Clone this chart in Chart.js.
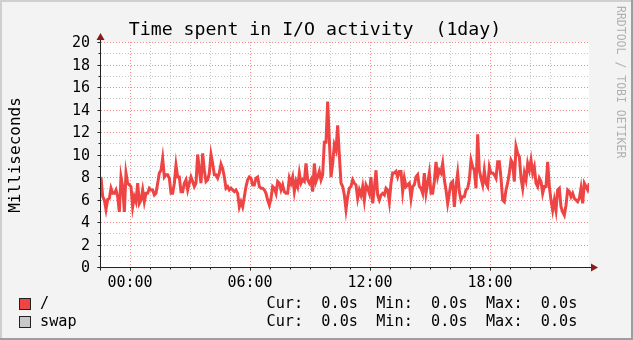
<!DOCTYPE html>
<html>
<head>
<meta charset="utf-8">
<script src="https://cdn.jsdelivr.net/npm/chart.js@4/dist/chart.umd.min.js"></script>
<style>
  html, body { margin: 0; padding: 0; background: #f3f3f3; }
  canvas { display: block; }
</style>
</head>
<body>
<canvas id="ioChart" width="633" height="340"></canvas>
<script>
// Values, one sample every 5 minutes starting 22:33 of the previous day
const startHour = -1.45;
const stepMinutes = 5;
const ioValues = [
  8.0, 6.25, 5.95, 5.1, 6.0, 6.1, 7.0, 6.55, 6.55, 6.85,
  6.25, 4.9, 8.0, 7.15, 4.9, 8.35, 7.45, 7.3, 7.15, 5.35,
  6.25, 5.8, 7.45, 5.65, 5.95, 6.85, 5.8, 6.55, 6.55, 7.0,
  6.85, 6.85, 6.4, 6.55, 7.45, 8.35, 8.6, 9.65, 8.0, 8.2,
  8.2, 7.9, 6.55, 6.55, 7.45, 9.05, 8.0, 8.0, 6.7, 6.7,
  7.45, 7.75, 6.85, 7.45, 8.0, 7.6, 7.15, 7.45, 10.0, 8.6,
  7.45, 10.1, 8.6, 7.6, 7.75, 8.35, 10.0, 9.2, 8.2, 8.2,
  7.9, 8.35, 9.15, 8.75, 8.0, 7.0, 7.15, 6.85, 7.0, 6.85,
  6.7, 6.85, 6.55, 5.35, 5.8, 5.35, 6.25, 7.15, 7.75, 8.0,
  7.9, 7.3, 7.3, 7.9, 8.0, 7.15, 7.0, 7.0, 6.85, 6.55,
  5.95, 5.5, 6.1, 7.15, 7.0, 6.55, 7.6, 7.45, 6.85, 7.3,
  6.7, 6.55, 6.55, 7.9, 7.45, 8.0, 6.7, 7.6, 7.15, 8.35,
  7.45, 7.75, 7.6, 9.2, 7.75, 7.45, 7.75, 6.7, 9.2, 7.6,
  8.0, 8.5, 7.75, 8.2, 11.1, 11.1, 14.7, 11.3, 8.0, 9.2,
  10.85, 10.4, 12.6, 9.95, 7.45, 7.15, 6.4, 5.1, 6.25, 7.0,
  7.15, 7.75,
  7.45, 7.3, 6.1, 6.85, 6.4, 7.15, 5.95, 7.3, 7.0, 6.55,
  8.0, 5.65, 7.0, 8.6, 6.4, 5.95, 6.4, 6.55, 6.4, 7.0,
  6.85, 5.8, 7.45, 8.35, 8.35, 8.5, 8.0, 8.5, 8.5, 6.7,
  7.9, 7.15, 7.3, 7.45, 6.1, 7.15, 7.3, 8.0, 8.2, 7.15,
  7.0, 6.55, 8.35, 6.55, 7.45, 8.35, 6.55, 6.55, 7.6,
  9.35, 8.0, 8.6, 8.35, 9.2, 7.75, 6.85, 5.65, 6.55, 7.45,
  7.6, 5.35, 7.15, 8.35, 6.7, 5.95, 6.25, 6.25, 6.85, 7.0,
  7.75, 9.5, 8.9, 8.6, 7.0, 11.8, 8.6, 7.9, 7.3, 8.6,
  7.45, 7.15, 8.9, 8.35, 8.35, 8.2, 7.9, 9.35, 9.35, 7.9,
  5.95, 5.8, 6.85, 7.45, 8.35, 9.5, 9.2, 7.6, 10.7, 10.1,
  9.8, 7.9, 7.0, 8.35, 7.75, 9.2, 8.6, 9.5, 8.35, 8.9,
  7.45, 7.15, 7.9, 7.6, 6.55, 7.15, 7.15, 9.35, 7.15, 5.95,
  5.05, 5.95, 5.05, 6.85, 7.0, 5.35, 4.9, 4.6, 5.5,
  6.85, 6.7, 6.25, 6.55, 6.1, 5.95, 5.8, 6.1, 7.0, 5.65,
  7.45, 7.15, 6.85, 7.45
];

const xTickHours = [0, 6, 12, 18];
const xTickLabels = ['00:00', '06:00', '12:00', '18:00'];
const yMajorStep = 2;

const titleText = 'Time spent in I/O activity  (1day)';
const yTitle = 'Milliseconds';
const legendNames = ['/', 'swap'];
const legendColors = ['#ee4444', '#c8c8c8'];
const legendStats = ['Cur:  0.0s  Min:  0.0s  Max:  0.0s', 'Cur:  0.0s  Min:  0.0s  Max:  0.0s'];

const MONO = '"DejaVu Sans Mono", monospace';
const points = ioValues.map((v, i) => ({ x: startHour + i * stepMinutes / 60, y: v }));

function isMajorX(v) { return xTickHours.includes(v); }
function isMajorY(v) { return v % yMajorStep === 0; }

const rrdFrame = {
  id: 'rrdFrame',
  beforeDraw(chart) {
    const { ctx, width, height, chartArea: a } = chart;
    ctx.save();
    ctx.fillStyle = '#f3f3f3';
    ctx.fillRect(0, 0, width, height);
    // shaded frame
    ctx.fillStyle = '#cfcfcf';
    ctx.fillRect(0, 0, width, 2);
    ctx.fillRect(0, 0, 2, height);
    ctx.fillStyle = '#9e9e9e';
    ctx.fillRect(0, height - 2, width, 2);
    ctx.fillRect(width - 2, 0, 2, height);
    ctx.fillStyle = '#ffffff';
    ctx.fillRect(a.left, a.top, a.right - a.left, a.bottom - a.top);
    ctx.restore();
  },
  beforeDatasetsDraw(chart) {
    const { ctx, chartArea: a, scales: { x, y } } = chart;
    ctx.save();
    ctx.lineWidth = 1;
    ctx.setLineDash([1, 2]);
    // minor lines first, majors on top
    for (const pass of [false, true]) {
      ctx.strokeStyle = pass ? 'rgba(240,60,60,0.6)' : 'rgba(150,150,150,0.55)';
      x.ticks.forEach(t => {
        if (isMajorX(t.value) !== pass) return;
        const px = Math.round(x.getPixelForValue(t.value)) + 0.5;
        ctx.beginPath(); ctx.moveTo(px, a.top); ctx.lineTo(px, a.bottom); ctx.stroke();
      });
      y.ticks.forEach(t => {
        if (isMajorY(t.value) !== pass || t.value === 0) return;
        const py = Math.round(y.getPixelForValue(t.value)) + 0.5;
        ctx.beginPath(); ctx.moveTo(a.left, py); ctx.lineTo(a.right, py); ctx.stroke();
      });
    }
    ctx.restore();
  },
  afterDatasetsDraw(chart) {
    const { ctx, chartArea: a, scales: { x, y } } = chart;
    const ax = Math.round(a.left) - 0.5;
    const ay = Math.round(a.bottom) + 0.5;
    ctx.save();
    ctx.strokeStyle = '#222';
    ctx.lineWidth = 1;
    x.ticks.forEach(t => {
      const px = Math.round(x.getPixelForValue(t.value)) + 0.5;
      ctx.beginPath(); ctx.moveTo(px, ay); ctx.lineTo(px, ay + (isMajorX(t.value) ? 3 : 2)); ctx.stroke();
    });
    y.ticks.forEach(t => {
      const py = Math.round(y.getPixelForValue(t.value)) + 0.5;
      ctx.beginPath(); ctx.moveTo(ax, py); ctx.lineTo(ax - (isMajorY(t.value) ? 3 : 2), py); ctx.stroke();
    });
    ctx.beginPath();
    ctx.moveTo(ax, a.top - 3); ctx.lineTo(ax, ay + 3);
    ctx.moveTo(ax - 3, ay); ctx.lineTo(a.right + 2, ay);
    ctx.stroke();
    // arrows
    ctx.fillStyle = '#8b1a1a';
    ctx.beginPath();
    ctx.moveTo(ax, a.top - 9); ctx.lineTo(ax - 4, a.top - 2); ctx.lineTo(ax + 4, a.top - 2); ctx.closePath();
    ctx.fill();
    ctx.beginPath();
    ctx.moveTo(a.right + 9, ay); ctx.lineTo(a.right + 2, ay - 4); ctx.lineTo(a.right + 2, ay + 4); ctx.closePath();
    ctx.fill();
    ctx.restore();
  },
  afterDraw(chart) {
    const { ctx } = chart;
    ctx.save();
    ctx.fillStyle = '#000';
    ctx.font = '18.2px ' + MONO;
    ctx.textAlign = 'center';
    ctx.textBaseline = 'alphabetic';
    ctx.fillText(titleText, 315, 35);

    ctx.save();
    ctx.translate(16, 155);
    ctx.rotate(-Math.PI / 2);
    ctx.font = '16px ' + MONO;
    ctx.textBaseline = 'middle';
    ctx.fillText(yTitle, 0, 0);
    ctx.restore();

    ctx.save();
    ctx.translate(620, 6);
    ctx.rotate(Math.PI / 2);
    ctx.font = '11.5px ' + MONO;
    ctx.fillStyle = '#b0b0b0';
    ctx.textAlign = 'left';
    ctx.textBaseline = 'middle';
    ctx.fillText('RRDTOOL / TOBI OETIKER', 0, 0);
    ctx.restore();

    ctx.font = '15.2px ' + MONO;
    ctx.textAlign = 'left';
    ctx.textBaseline = 'middle';
    legendNames.forEach((name, i) => {
      const cy = 304 + i * 18;
      ctx.fillStyle = legendColors[i];
      ctx.fillRect(19.5, cy - 5.5, 11, 11);
      ctx.strokeStyle = '#222';
      ctx.lineWidth = 1;
      ctx.strokeRect(19.5, cy - 5.5, 11, 11);
      ctx.fillStyle = '#000';
      ctx.fillText(name, 40, cy);
      ctx.fillText(legendStats[i], 266.5, cy);
    });
    ctx.restore();
  }
};

new Chart(document.getElementById('ioChart'), {
  type: 'line',
  data: {
    datasets: [{
      data: points,
      borderColor: '#ee4444',
      borderWidth: 3,
      pointRadius: 0,
      tension: 0,
      fill: false
    }]
  },
  options: {
    responsive: false,
    animation: false,
    events: [],
    layout: { padding: { left: 0, top: 42, right: 44, bottom: 0 } },
    plugins: { legend: { display: false }, tooltip: { enabled: false } },
    scales: {
      x: {
        type: 'linear',
        min: startHour,
        max: 22.95,
        afterFit: (s) => { s.height = 73; },
        afterBuildTicks: (s) => { s.ticks = s.ticks.filter(t => Number.isInteger(t.value)); },
        grid: { display: false, drawTicks: false },
        border: { display: false },
        ticks: {
          stepSize: 1,
          autoSkip: false,
          maxRotation: 0,
          padding: 7,
          color: '#000',
          font: { family: MONO, size: 15 },
          callback: (v) => {
            const i = xTickHours.indexOf(v);
            return i >= 0 ? xTickLabels[i] : '';
          }
        }
      },
      y: {
        min: 0,
        max: 20,
        afterFit: (s) => { s.width = 101; },
        grid: { display: false, drawTicks: false },
        border: { display: false },
        ticks: {
          stepSize: 1,
          autoSkip: false,
          padding: 11,
          labelOffset: 1.5,
          color: '#000',
          font: { family: MONO, size: 15 },
          callback: (v) => (isMajorY(v) ? String(v) : '')
        }
      }
    }
  },
  plugins: [rrdFrame]
});
</script>
</body>
</html>
